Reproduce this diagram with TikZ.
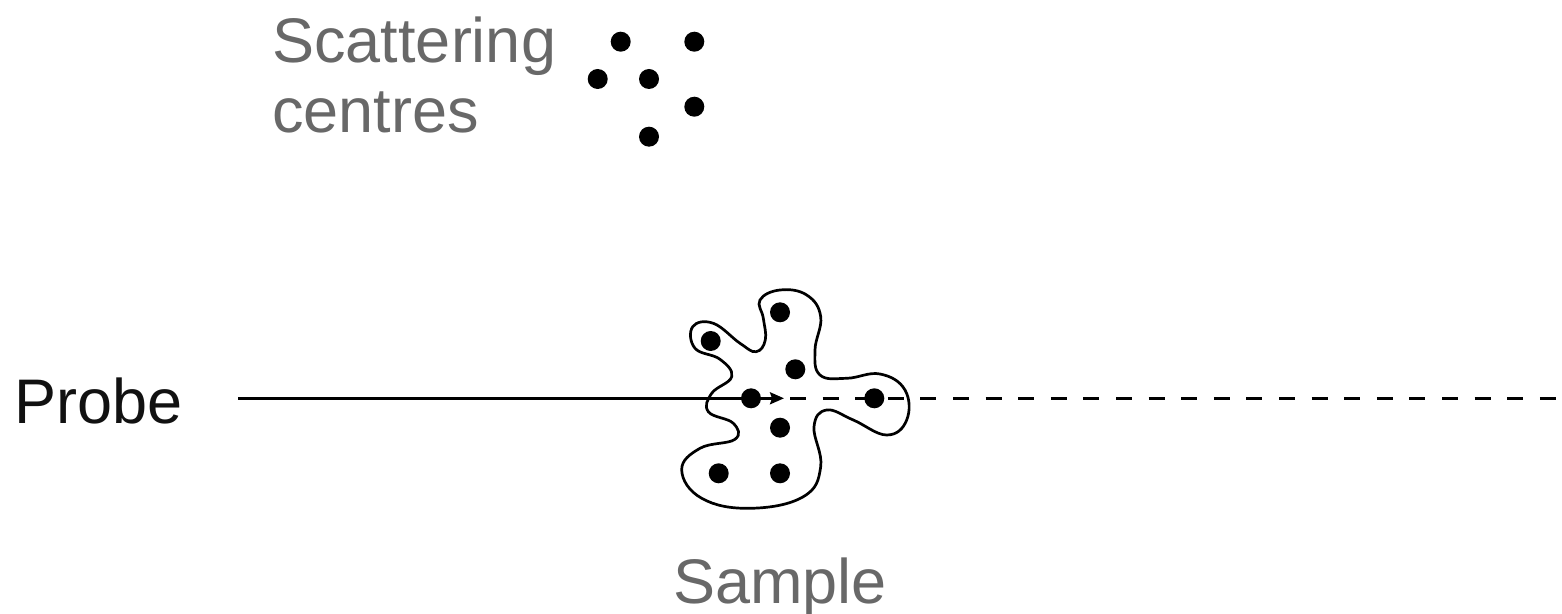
\documentclass[tikz,border=0pt]{standalone}
\usepackage{fontspec}
\setmainfont{Liberation Sans}
\usetikzlibrary{arrows.meta}
\definecolor{labelgray}{HTML}{686868}
\definecolor{probeink}{HTML}{111111}
\tikzset{
  label text/.style={font=\fontsize{31.5}{35}\selectfont, inner sep=0pt, anchor=base west},
  centre/.style={circle, fill=black, draw=none, minimum size=10pt, inner sep=0pt},
  outline/.style={line width=1.35pt, black},
  beam/.style={line width=1.2pt, black},
  beam dashed/.style={line width=1.2pt, black, dash pattern=on 8pt off 8.3pt},
}
\begin{document}
\begin{tikzpicture}[x=0.5pt, y=-0.5pt]
  \useasboundingbox (0,0) rectangle (1562,614);

  % labels
  \node[label text, text=labelgray] (scat) at (272,63) {Scattering};
  \node[label text, text=labelgray] (cent) at (272,133) {centres};
  \node[label text, text=probeink] (probe) at (14,423) {Probe};
  \node[label text, text=labelgray] (sample) at (673,603) {Sample};

  % legend of scattering centres
  \node[centre] (l1) at (620.7,41.7) {};
  \node[centre] (l2) at (694.3,41.7) {};
  \node[centre] (l3) at (597.7,79) {};
  \node[centre] (l4) at (649,79) {};
  \node[centre] (l5) at (694.3,106.7) {};
  \node[centre] (l6) at (649,136.7) {};

  % sample outline
  \draw[outline] plot[smooth cycle, tension=0.7] coordinates {
    (756,351.7) (765.3,340) (763.3,318.3) (760,300) (780,290)
    (806.7,295) (820.7,316.7) (815,350) (820,375) (846.7,378.3)
    (880,374) (905,390) (906.7,420) (886.7,435) (853.3,420)
    (826.7,410) (814,426.7) (820.7,466.7) (803.3,496.7) (750,508.3)
    (701.7,498.3) (681.7,470) (700,448.3) (735,439.3) (733.3,423.3)
    (708.3,411.7) (711.7,393.3) (731.7,376.7) (720,359.3) (695,348.3)
    (692.7,326.7) (713.3,323.3) (740,343.3)
  };

  % scattering centres inside the sample
  \node[centre] (s1) at (780,312.3) {};
  \node[centre] (s2) at (710.7,341) {};
  \node[centre] (s3) at (795.3,369.3) {};
  \node[centre] (s4) at (751,398.3) {};
  \node[centre] (s5) at (874.3,398.3) {};
  \node[centre] (s6) at (780,427.7) {};
  \node[centre] (s7) at (718.7,473.3) {};
  \node[centre] (s8) at (780,473.3) {};

  % probe beam
  \coordinate (beamstart) at (238,398.3);
  \coordinate (tip) at (784,398.3);
  \coordinate (dashstart) at (790,398.3);
  \coordinate (beamend) at (1562,398.3);
  \draw[beam, -{Stealth[length=7pt, width=6pt, inset=1pt]}] (beamstart) -- (tip);
  \draw[beam dashed] (dashstart) -- (beamend);
\end{tikzpicture}
\end{document}
